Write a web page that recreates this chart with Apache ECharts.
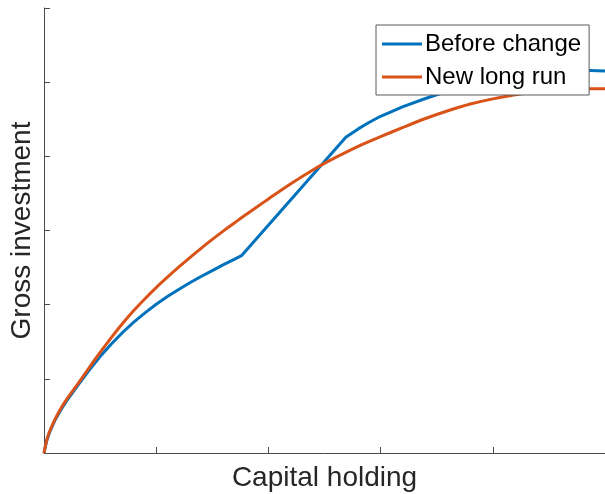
<!DOCTYPE html>
<html>
<head>
<meta charset="utf-8">
<script src="https://cdn.jsdelivr.net/npm/echarts@6/dist/echarts.min.js"></script>
<style>
  html, body { margin: 0; padding: 0; background: #fff; overflow: hidden; }
  #chart { width: 605px; height: 494px; }
</style>
</head>
<body>
<div id="chart"></div>
<script>
// Gross investment as a function of capital holding
const seriesNames = ['Before change', 'New long run'];

const beforeX = [0, 0.025, 0.05, 0.1, 0.15, 0.2, 0.3, 0.4, 0.5, 0.6, 0.7, 0.8, 0.9, 1.0, 1.1, 1.2, 1.3, 1.4, 1.5, 1.6, 1.7, 1.76, 2.69, 2.8, 2.9, 3.0, 3.2, 3.4, 3.6, 3.8, 4.0, 4.2, 4.4, 4.6, 4.8, 5.0];
const beforeY = [0, 0.17, 0.28, 0.45, 0.58, 0.70, 0.91, 1.11, 1.30, 1.47, 1.625, 1.765, 1.89, 2.005, 2.11, 2.205, 2.295, 2.38, 2.46, 2.54, 2.615, 2.66, 4.256, 4.37, 4.46, 4.54, 4.67, 4.78, 4.88, 4.96, 5.03, 5.08, 5.12, 5.15, 5.16, 5.15];

const newRunX = [0, 0.025, 0.05, 0.1, 0.15, 0.2, 0.3, 0.4, 0.5, 0.6, 0.7, 0.8, 0.9, 1.0, 1.1, 1.2, 1.3, 1.4, 1.5, 1.6, 1.7, 1.8, 1.9, 2.0, 2.2, 2.4, 2.6, 2.8, 3.0, 3.2, 3.4, 3.6, 3.8, 4.0, 4.2, 4.4, 4.6, 4.8, 5.0];
const newRunY = [0, 0.18, 0.29, 0.46, 0.60, 0.72, 0.93, 1.145, 1.355, 1.555, 1.745, 1.92, 2.08, 2.23, 2.37, 2.505, 2.635, 2.76, 2.88, 2.995, 3.105, 3.215, 3.32, 3.425, 3.63, 3.82, 3.985, 4.135, 4.265, 4.39, 4.51, 4.615, 4.705, 4.775, 4.83, 4.87, 4.895, 4.91, 4.91];

const pairs = (xs, ys) => xs.map((x, i) => [x, ys[i]]);

const FONT = "'Liberation Sans', Arial, Helvetica, sans-serif";
const AXIS_COLOR = '#4a4a4a';
// flat bar used as the legend swatch
const SWATCH = 'path://M0,0 L40,0 L40,3 L0,3 Z';

const chart = echarts.init(document.getElementById('chart'), null, { renderer: 'canvas' });

chart.setOption({
  animation: false,
  backgroundColor: '#ffffff',
  grid: { left: 44, right: 0, top: 8, bottom: 41, containLabel: false, outerBoundsMode: 'none' },
  xAxis: {
    type: 'value',
    min: 0, max: 5, interval: 1,
    name: 'Capital holding',
    nameLocation: 'middle',
    nameGap: 11,
    nameTextStyle: { fontFamily: FONT, fontSize: 28, color: '#262626', lineHeight: 28 },
    axisLine: { show: true, onZero: false, lineStyle: { color: AXIS_COLOR, width: 1 } },
    axisTick: { show: true, inside: true, length: 6, lineStyle: { color: AXIS_COLOR, width: 1 } },
    axisLabel: { show: false },
    splitLine: { show: false }
  },
  yAxis: {
    type: 'value',
    min: 0, max: 6, interval: 1,
    name: 'Gross investment',
    nameLocation: 'middle',
    nameGap: 8,
    nameTextStyle: { fontFamily: FONT, fontSize: 28, color: '#262626', lineHeight: 28 },
    axisLine: { show: true, onZero: false, lineStyle: { color: AXIS_COLOR, width: 1 } },
    axisTick: { show: true, inside: true, length: 6, lineStyle: { color: AXIS_COLOR, width: 1 } },
    axisLabel: { show: false },
    splitLine: { show: false }
  },
  legend: {
    orient: 'vertical',
    left: 376,
    top: 25,
    backgroundColor: '#ffffff',
    borderColor: '#5a5a5a',
    borderWidth: 1,
    borderRadius: 0,
    padding: [6, 8, 5, 6],
    icon: SWATCH,
    itemWidth: 40,
    itemHeight: 3,
    itemGap: 7,
    data: seriesNames,
    textStyle: { fontFamily: FONT, fontSize: 24, color: '#000000', lineHeight: 26, padding: [0, 0, 0, -2] }
  },
  series: [
    {
      name: seriesNames[0],
      type: 'line',
      data: pairs(beforeX, beforeY),
      symbol: 'none',
      smooth: false,
      color: '#0072BD',
      lineStyle: { color: '#0072BD', width: 3 },
      z: 2
    },
    {
      name: seriesNames[1],
      type: 'line',
      data: pairs(newRunX, newRunY),
      symbol: 'none',
      smooth: 0.3,
      color: '#D95319',
      lineStyle: { color: '#D95319', width: 3 },
      z: 3
    }
  ]
});
</script>
</body>
</html>
